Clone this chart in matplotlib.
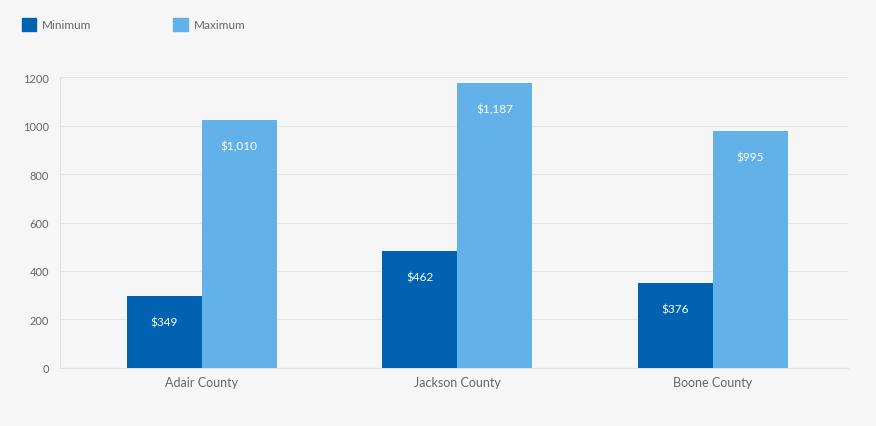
import matplotlib
matplotlib.use("Agg")
import matplotlib.pyplot as plt
from matplotlib.patches import Patch
import numpy as np

plt.rcParams['font.family'] = ['Lato', 'DejaVu Sans']

counties = ["Adair County", "Jackson County", "Boone County"]
series_names = ["Minimum", "Maximum"]
# bar heights as drawn in the picture
minimum = [297, 482, 350]
maximum = [1023, 1175, 977]
# value labels as printed on the bars
minimum_labels = ["$349", "$462", "$376"]
maximum_labels = ["$1,010", "$1,187", "$995"]
yticks = [0, 200, 400, 600, 800, 1000, 1200]

bg = "#f6f6f6"
dark = "#0062b0"
light = "#62b1e8"

fig = plt.figure(figsize=(8.76, 4.27), dpi=100, facecolor=bg)
ax = fig.add_axes([0.0685, 0.136, 0.8995, 0.681], facecolor=bg)

x = np.arange(len(counties))
w = 0.2935
b1 = ax.bar(x - w/2, minimum, w, color=dark, zorder=3)
b2 = ax.bar(x + w/2, maximum, w, color=light, zorder=3)

# value labels inside the top of each bar
for bars, labels in ((b1, minimum_labels), (b2, maximum_labels)):
    for rect, lab in zip(bars, labels):
        ax.annotate(lab, (rect.get_x() + rect.get_width()/2, rect.get_height()),
                    xytext=(0, -18.5), textcoords="offset points",
                    ha="center", va="center", color="white", fontsize=8.5, zorder=4)

ax.set_xlim(-0.555, 2.53)
ax.set_ylim(0, 1200)
ax.set_yticks(yticks)
ax.set_xticks(x)
ax.set_xticklabels(counties)
ax.tick_params(axis="both", length=0, colors="#666666")
ax.tick_params(axis="y", labelsize=8, pad=8)
ax.tick_params(axis="x", labelsize=9, pad=6)

ax.grid(axis="y", color="#e6e6e6", linewidth=0.8, zorder=0)
for s in ["top", "right"]:
    ax.spines[s].set_visible(False)
ax.spines["left"].set_color("#e2e2e2")
ax.spines["bottom"].set_color("#e2e2e2")

handles = [Patch(color=dark), Patch(color=light)]
fig.legend(handles, series_names, loc="upper left", bbox_to_anchor=(0.0125, 0.98),
           ncol=2, frameon=False, fontsize=8.5, labelcolor="#666666",
           handlelength=1.25, handleheight=1.25, handletextpad=0.5,
           columnspacing=6.9)

fig.savefig("out.png", dpi=100, facecolor=bg)
